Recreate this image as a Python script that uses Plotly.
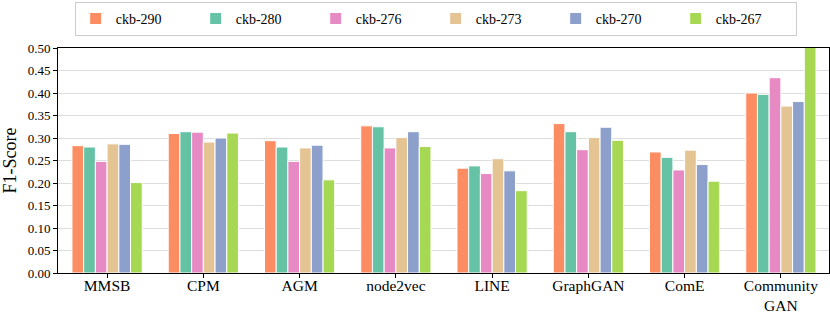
import plotly.graph_objects as go

categories = ["MMSB", "CPM", "AGM", "node2vec", "LINE", "GraphGAN", "ComE", "Community<br>GAN"]
series_names = ["ckb-290", "ckb-280", "ckb-276", "ckb-273", "ckb-270", "ckb-267"]
ckb_290 = [0.283, 0.310, 0.294, 0.327, 0.233, 0.332, 0.269, 0.400]
ckb_280 = [0.280, 0.314, 0.280, 0.325, 0.238, 0.314, 0.257, 0.397]
ckb_276 = [0.248, 0.313, 0.248, 0.278, 0.221, 0.274, 0.229, 0.434]
ckb_273 = [0.287, 0.291, 0.278, 0.301, 0.254, 0.301, 0.273, 0.371]
ckb_270 = [0.286, 0.300, 0.284, 0.314, 0.227, 0.324, 0.241, 0.381]
ckb_267 = [0.201, 0.311, 0.207, 0.281, 0.183, 0.295, 0.204, 0.510]
series_values = [ckb_290, ckb_280, ckb_276, ckb_273, ckb_270, ckb_267]
colors = ["#fc8d62", "#66c2a5", "#e78ac3", "#e5c494", "#8da0cb", "#a6d854"]
y_ticks = [0.0, 0.05, 0.10, 0.15, 0.20, 0.25, 0.30, 0.35, 0.40, 0.45, 0.50]

FONT = "Liberation Serif, DejaVu Serif, serif"

fig = go.Figure()
for name, vals, col in zip(series_names, series_values, colors):
    fig.add_trace(go.Bar(
        name=name, x=categories, y=vals,
        marker=dict(color=col, line=dict(color="white", width=1)),
    ))

fig.update_layout(
    width=830, height=315,
    margin=dict(l=58, r=1, t=48, b=42, autoexpand=False),
    barmode="group", bargap=0.27, bargroupgap=0,
    plot_bgcolor="white", paper_bgcolor="white",
    font=dict(family=FONT, size=13, color="black"),
    legend=dict(
        orientation="h", x=0.09, xref="container", xanchor="left",
        y=0.994, yref="container", yanchor="top",
        bordercolor="#cccccc", borderwidth=1, font=dict(size=14, family=FONT),
        entrywidth=75, itemwidth=30, tracegroupgap=0,
    ),
    showlegend=True,
)
fig.update_xaxes(
    range=[-0.51, 7.5], showline=True, linecolor="black", linewidth=1, mirror=True,
    ticks="outside", ticklen=4, tickcolor="black", showgrid=False,
    tickfont=dict(size=15.5, family=FONT), ticklabelstandoff=-6,
)
fig.update_yaxes(
    range=[0, 0.5], tickvals=y_ticks, tickformat=".2f",
    showline=True, linecolor="black", linewidth=1, mirror=True,
    ticks="outside", ticklen=4, tickcolor="black",
    showgrid=True, gridcolor="#dddddd", gridwidth=1,
    tickfont=dict(size=13, family=FONT),
    title=dict(text="F1-Score", font=dict(size=18, family=FONT), standoff=7),
    zeroline=False,
)

fig.write_html("out.html", config={"displayModeBar": False},
               post_script="document.body.style.margin='0';document.body.style.overflow='hidden';")
